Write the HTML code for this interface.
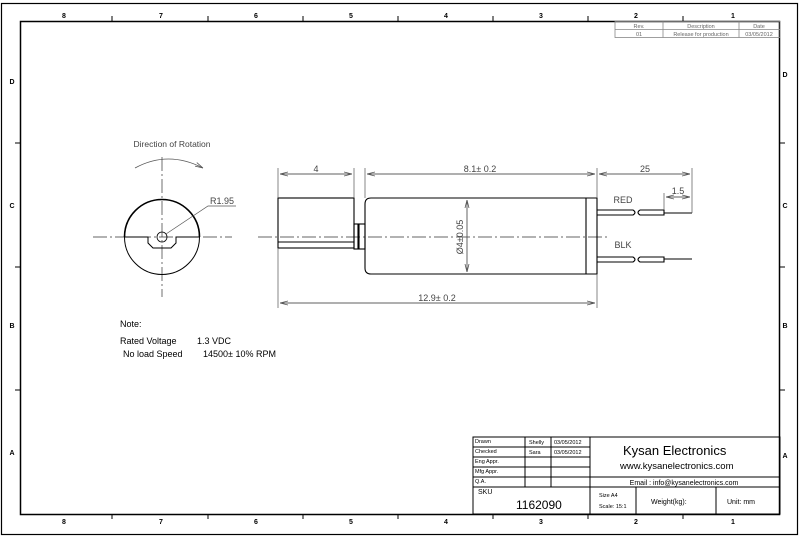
<!DOCTYPE html>
<html><head><meta charset="utf-8"><style>
html,body{margin:0;padding:0;background:#fff;}
svg{display:block;font-family:"Liberation Sans",sans-serif;}
</style></head><body>
<svg width="801" height="539" viewBox="0 0 801 539" xmlns="http://www.w3.org/2000/svg">
<defs>
<marker id="ar" markerWidth="8" markerHeight="6" refX="8" refY="3" orient="auto" markerUnits="userSpaceOnUse"><path d="M0,1 L8,3 L0,5" fill="none" stroke="#555" stroke-width="0.8"/></marker>
</defs>
<rect x="1.5" y="3.5" width="796" height="531" fill="none" stroke="#000" stroke-width="1.2"/>
<rect x="20.5" y="21.5" width="759" height="493" fill="none" stroke="#000" stroke-width="1.5"/>
<g font-size="7" font-weight="bold" text-anchor="middle" fill="#000">
<text x="64" y="18">8</text><text x="161" y="18">7</text><text x="256" y="18">6</text><text x="351" y="18">5</text><text x="446" y="18">4</text><text x="541" y="18">3</text><text x="636" y="18">2</text><text x="733" y="18">1</text>
<text x="64" y="524">8</text><text x="161" y="524">7</text><text x="256" y="524">6</text><text x="351" y="524">5</text><text x="446" y="524">4</text><text x="541" y="524">3</text><text x="636" y="524">2</text><text x="733" y="524">1</text>
<text x="12" y="84">D</text><text x="12" y="208">C</text><text x="12" y="328">B</text><text x="12" y="455">A</text>
<text x="785" y="77">D</text><text x="785" y="208">C</text><text x="785" y="328">B</text><text x="785" y="458">A</text>
</g>
<g stroke="#000" stroke-width="1">
<path d="M112,16V21M208,16V21M303,16V21M398,16V21M493,16V21M588,16V21M683,16V21"/>
<path d="M112,514V519M208,514V519M303,514V519M398,514V519M493,514V519M588,514V519M683,514V519"/>
<path d="M15,143H20M15,267H20M15,390H20M780,143H785M780,267H785M780,390H785"/>
</g>
<g stroke="#888" stroke-width="0.8" fill="none">
<rect x="615" y="21.5" width="165" height="16"/>
<path d="M615,29.5H780M663,21.5V37.5M739,21.5V37.5"/>
</g>
<g font-size="5.5" fill="#666" text-anchor="middle">
<text x="639" y="28">Rev.</text><text x="701" y="28">Description</text><text x="759" y="28">Date</text>
<text x="639" y="36">01</text><text x="701" y="36">Release for production</text><text x="759" y="36">03/05/2012</text>
</g>
<g stroke="#333" stroke-width="0.7" fill="none" stroke-dasharray="14,3,2,3">
<path d="M93,237H232M162,157V297"/>
<path d="M258,237H607"/>
</g>
<text x="172" y="147" font-size="8.5" fill="#444" text-anchor="middle">Direction of Rotation</text>
<path d="M135,168 Q168,150 203,168" fill="none" stroke="#555" stroke-width="0.8" marker-end="url(#ar)"/>
<circle cx="162" cy="237" r="37.5" fill="none" stroke="#000" stroke-width="1"/>
<path d="M124.5,237 A37.5,37.5 0 0 1 199.5,237" fill="none" stroke="#000" stroke-width="1.6"/>
<path d="M125,237H148V243L153,248H171L176,243V237H199" fill="none" stroke="#000" stroke-width="1"/>
<circle cx="162" cy="237" r="5" fill="none" stroke="#000" stroke-width="0.8"/>
<path d="M166,234L208,206H236" fill="none" stroke="#555" stroke-width="0.7"/>
<text x="210" y="204" font-size="9" fill="#444">R1.95</text>
<g stroke="#000" stroke-width="1.1" fill="none">
<rect x="278" y="198" width="76" height="50"/>
<path d="M278,242H354"/>
<rect x="354" y="224" width="4" height="25"/>
<rect x="359" y="224" width="6" height="25"/>
<path d="M597,198H371Q365,198 365,204V268Q365,274 371,274H597Z"/>
<path d="M586,198V274"/>
<path d="M597,210H633Q637,212.5 633,215H597M640,210H664V215H640Q636,212.5 640,210M664,213H692"/>
<path d="M597,257H633Q637,259.5 633,262H597M640,257H664V262H640Q636,259.5 640,257M664,259H692"/>
</g>
<g stroke="#555" stroke-width="0.7" fill="none">
<path d="M278,198V168M354,198V168M365,198V168M597,198V168M692,213V168M664,210V193M278,248V308M597,274V308"/>
<path d="M280,174H352" marker-end="url(#ar)"/><path d="M352,174H280" marker-end="url(#ar)"/>
<path d="M367,174H595" marker-end="url(#ar)"/><path d="M595,174H367" marker-end="url(#ar)"/>
<path d="M599,174H690" marker-end="url(#ar)"/><path d="M690,174H599" marker-end="url(#ar)"/>
<path d="M666,197H690" marker-end="url(#ar)"/><path d="M690,197H666" marker-end="url(#ar)"/>
<path d="M280,303H595" marker-end="url(#ar)"/><path d="M595,303H280" marker-end="url(#ar)"/>
<path d="M467,200V272" marker-end="url(#ar)"/><path d="M467,272V200" marker-end="url(#ar)"/>
</g>
<g font-size="9" fill="#444" text-anchor="middle">
<text x="316" y="172">4</text>
<text x="480" y="172">8.1± 0.2</text>
<text x="645" y="172">25</text>
<text x="678" y="194">1.5</text>
<text x="437" y="301">12.9± 0.2</text>
<text x="623" y="203">RED</text>
<text x="623" y="248">BLK</text>
<text transform="translate(463,237) rotate(-90)">Ø4±0.05</text>
</g>
<g font-size="9" fill="#000">
<text x="120" y="327">Note:</text>
<text x="120" y="344">Rated Voltage</text><text x="197" y="344">1.3 VDC</text>
<text x="123" y="357">No load Speed</text><text x="203" y="357">14500± 10% RPM</text>
</g>
<g stroke="#000" stroke-width="1" fill="none">
<rect x="473" y="437" width="307" height="77"/>
<path d="M473,447H590M473,457H590M473,467H590M473,477H780M473,487H780M525,437V487M551,437V487M590,437V514M636,487V514M716,487V514"/>
</g>
<g font-size="5.5" fill="#000">
<text x="475" y="443">Drawn</text><text x="529" y="444">Shelly</text><text x="554" y="444">03/05/2012</text>
<text x="475" y="453">Checked</text><text x="529" y="454">Sara</text><text x="554" y="454">03/05/2012</text>
<text x="475" y="463">Eng Appr.</text>
<text x="475" y="473">Mfg Appr.</text>
<text x="475" y="483">Q.A.</text>
<text x="478" y="494" font-size="7">SKU</text>
<text x="599" y="497">Size A4</text>
<text x="599" y="508">Scale: 15:1</text>
</g>
<text x="623" y="455" font-size="13" fill="#000">Kysan Electronics</text>
<text x="620" y="469" font-size="9.5" fill="#000">www.kysanelectronics.com</text>
<text x="684" y="485" font-size="7" fill="#000" text-anchor="middle">Email : info@kysanelectronics.com</text>
<text x="516" y="509" font-size="12" fill="#000">1162090</text>
<text x="651" y="504" font-size="7" fill="#000">Weight(kg):</text>
<text x="727" y="504" font-size="7" fill="#000">Unit: mm</text>
</svg>
</body></html>
